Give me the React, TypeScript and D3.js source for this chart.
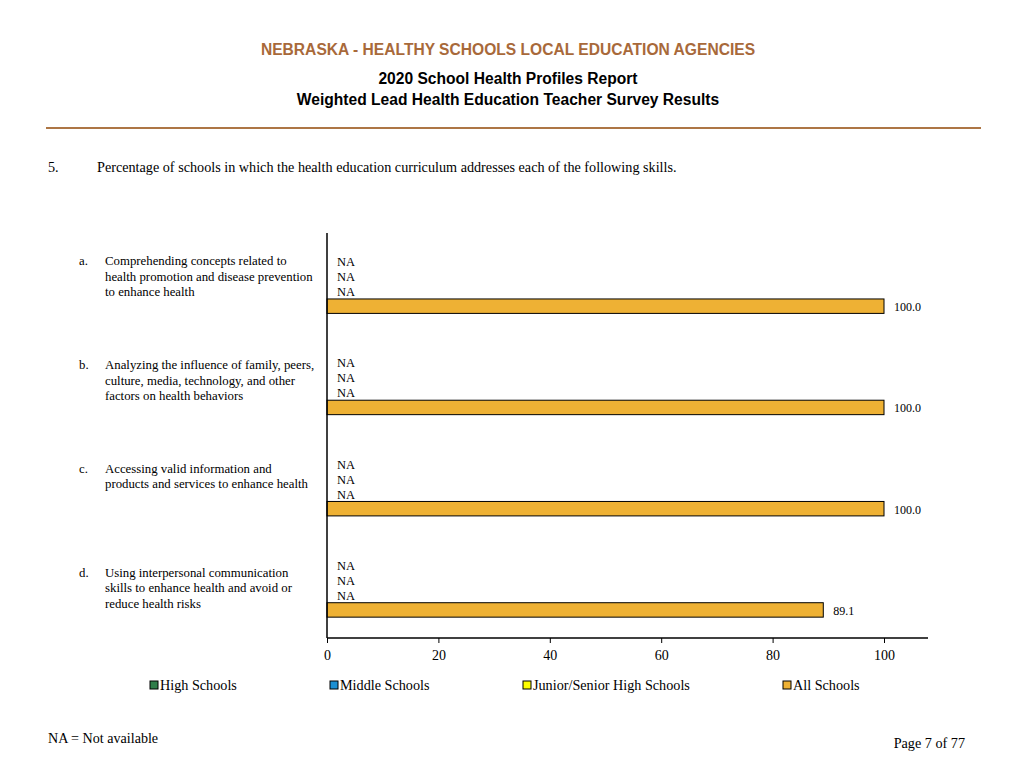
import React, { useEffect, useRef } from 'react';
import * as d3 from 'd3';

const categories = ['a.', 'b.', 'c.', 'd.'];
const categoryLines = [
  ['Comprehending concepts related to', 'health promotion and disease prevention', 'to enhance health'],
  ['Analyzing the influence of family, peers,', 'culture, media, technology, and other', 'factors on health behaviors'],
  ['Accessing valid information and', 'products and services to enhance health'],
  ['Using interpersonal communication', 'skills to enhance health and avoid or', 'reduce health risks'],
];
const seriesNames = ['High Schools', 'Middle Schools', 'Junior/Senior High Schools', 'All Schools'];
const seriesColors = ['#2f7d4a', '#1b8fd2', '#ffff00', '#eeb134'];
const highSchools: (number | null)[] = [null, null, null, null];
const middleSchools: (number | null)[] = [null, null, null, null];
const juniorSeniorHigh: (number | null)[] = [null, null, null, null];
const allSchools: (number | null)[] = [100.0, 100.0, 100.0, 89.1];
const xTicks = [0, 20, 40, 60, 80, 100];

const serif = '"Liberation Serif", "Times New Roman", serif';
const sans = '"Liberation Sans", Arial, sans-serif';

export default function App() {
  const svgRef = useRef<SVGSVGElement>(null);

  useEffect(() => {
    if (!svgRef.current) return;
    const svg = d3.select(svgRef.current);
    svg.selectAll('*').remove();

    const values = [highSchools, middleSchools, juniorSeniorHigh, allSchools];

    // Header
    svg.append('text')
      .attr('x', 508).attr('y', 55)
      .attr('text-anchor', 'middle')
      .style('font-family', sans).style('font-size', '15.6px').style('font-weight', '700')
      .style('fill', '#a8693a')
      .text('NEBRASKA - HEALTHY SCHOOLS LOCAL EDUCATION AGENCIES');
    svg.append('text')
      .attr('x', 508).attr('y', 84)
      .attr('text-anchor', 'middle')
      .style('font-family', sans).style('font-size', '15.6px').style('font-weight', '700')
      .text('2020 School Health Profiles Report');
    svg.append('text')
      .attr('x', 508).attr('y', 105)
      .attr('text-anchor', 'middle')
      .style('font-family', sans).style('font-size', '15.6px').style('font-weight', '700')
      .text('Weighted Lead Health Education Teacher Survey Results');
    svg.append('line')
      .attr('x1', 46).attr('x2', 981).attr('y1', 128).attr('y2', 128)
      .style('stroke', '#ad7645').style('stroke-width', 2);

    // Question
    svg.append('text')
      .attr('x', 48).attr('y', 172)
      .style('font-family', serif).style('font-size', '14.2px')
      .text('5.');
    svg.append('text')
      .attr('x', 97).attr('y', 172)
      .style('font-family', serif).style('font-size', '14.2px')
      .text('Percentage of schools in which the health education curriculum addresses each of the following skills.');

    // Scales
    const x = d3.scaleLinear().domain([0, 100]).range([327, 884]);
    const y0 = d3.scaleBand<string>()
      .domain(categories)
      .range([233, 638])
      .paddingInner(0.4)
      .paddingOuter(0.2);
    const y1 = d3.scaleBand<string>()
      .domain(seriesNames)
      .range([0, y0.bandwidth()])
      .padding(0.04);

    const g = svg.append('g');

    categories.forEach((cat, ci) => {
      const gy = y0(cat)!;
      const ly = gy + 12 + ci * 2.6;
      // category label
      svg.append('text')
        .attr('x', 79).attr('y', ly)
        .style('font-family', serif).style('font-size', '12.8px')
        .text(cat);
      categoryLines[ci].forEach((line, li) => {
        svg.append('text')
          .attr('x', 105).attr('y', ly + li * 15.5)
          .style('font-family', serif).style('font-size', '12.8px')
          .text(line);
      });

      seriesNames.forEach((s, si) => {
        const v = values[si][ci];
        const by = gy + y1(s)!;
        const bh = y1.bandwidth();
        if (v == null) {
          g.append('text')
            .attr('x', x(0) + 10).attr('y', by + bh / 2 + 5)
            .style('font-family', serif).style('font-size', '12.5px')
            .text('NA');
        } else {
          g.append('rect')
            .attr('x', x(0)).attr('y', by)
            .attr('width', x(v) - x(0)).attr('height', bh)
            .style('fill', seriesColors[si])
            .style('stroke', '#000').style('stroke-width', 1);
          g.append('text')
            .attr('x', x(v) + 10).attr('y', by + bh / 2 + 5)
            .style('font-family', serif).style('font-size', '12px')
            .text(v.toFixed(1));
        }
      });
    });

    // Axes
    svg.append('line')
      .attr('x1', x(0)).attr('x2', x(0)).attr('y1', 233).attr('y2', 638)
      .style('stroke', '#000').style('stroke-width', 1.5);
    const xAxis = svg.append('g')
      .attr('transform', 'translate(0,638)')
      .call(d3.axisBottom(x).tickValues(xTicks).tickSize(5).tickSizeOuter(0).tickFormat(d => `${d}`));
    xAxis.select('.domain').remove();
    xAxis.append('line')
      .attr('x1', x(0)).attr('x2', 928).attr('y1', 0).attr('y2', 0)
      .style('stroke', '#000').style('stroke-width', 1.5);
    xAxis.selectAll('text')
      .attr('y', 12)
      .style('font-family', serif).style('font-size', '14px').style('fill', '#000');

    // Legend
    const legendX = [150, 330, 523, 783];
    seriesNames.forEach((s, i) => {
      svg.append('rect')
        .attr('x', legendX[i]).attr('y', 681)
        .attr('width', 8).attr('height', 8)
        .style('fill', seriesColors[i])
        .style('stroke', '#000').style('stroke-width', 1);
      svg.append('text')
        .attr('x', legendX[i] + 10).attr('y', 690)
        .style('font-family', serif).style('font-size', '14.2px')
        .text(s);
    });

    // Footer
    svg.append('text')
      .attr('x', 48).attr('y', 743)
      .style('font-family', serif).style('font-size', '14.1px')
      .text('NA = Not available');
    svg.append('text')
      .attr('x', 965).attr('y', 748)
      .attr('text-anchor', 'end')
      .style('font-family', serif).style('font-size', '14.2px')
      .text('Page 7 of 77');
  }, []);

  return (
    <svg
      ref={svgRef}
      width={1024}
      height={768}
      style={{ position: 'absolute', top: 0, left: 0, background: '#fff', display: 'block' }}
    />
  );
}
